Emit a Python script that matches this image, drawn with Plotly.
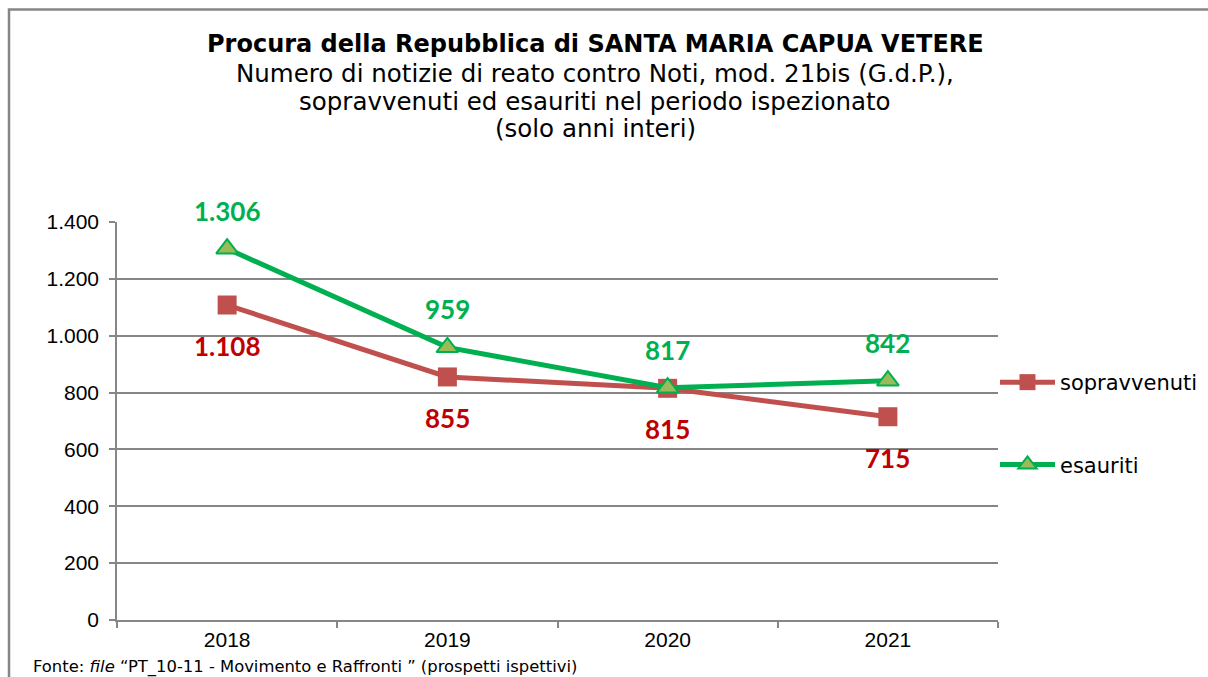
import plotly.graph_objects as go

years = ["2018", "2019", "2020", "2021"]
sopravvenuti = [1108, 855, 815, 715]
esauriti = [1306, 959, 817, 842]
y_ticks = [0, 200, 400, 600, 800, 1000, 1200, 1400]

title_lines = [
    ("<b>Procura della Repubblica di SANTA MARIA CAPUA VETERE</b>", 44),
    ("Numero di notizie di reato contro Noti, mod. 21bis (G.d.P.),", 73),
    ("sopravvenuti ed esauriti nel periodo ispezionato", 101),
    ("(solo anni interi)", 129),
]
footnote = "Fonte: <i>file</i> \u201cPT_10-11 - Movimento e Raffronti \u201d (prospetti ispettivi)"

# figure is a bit wider than the 1208px window so the legend never pushes the margin
W, H = 1224, 677
L, R, T, B = 117, 226, 222, 57
PW, PH = W - L - R, H - T - B

def px_x(p):
    return (p - L) / PW

def px_y(p):
    return (H - B - p) / PH

def fmt(v):
    return f"{v:,}".replace(",", ".")

fig = go.Figure()
fig.add_trace(go.Scatter(
    x=years, y=sopravvenuti, name="sopravvenuti", mode="lines+markers",
    line=dict(color="#C0504D", width=5),
    marker=dict(symbol="square", size=19, color="#C0504D"),
    legendgroup="a",
))
fig.add_trace(go.Scatter(
    x=years, y=esauriti, name="esauriti", mode="lines+markers",
    line=dict(color="#00B050", width=5),
    marker=dict(symbol="triangle-up", size=19, color="#9BBB59",
                line=dict(color="#00B050", width=2)),
    legendgroup="b",
))

annotations = []
for i, v in enumerate(esauriti):
    annotations.append(dict(x=i, y=v, xref="x", yref="y", text=f"<b>{fmt(v)}</b>",
                            showarrow=False, yshift=38, xanchor="center", yanchor="middle",
                            font=dict(family="Lato", size=26, color="#00B050")))
for i, v in enumerate(sopravvenuti):
    annotations.append(dict(x=i, y=v, xref="x", yref="y", text=f"<b>{fmt(v)}</b>",
                            showarrow=False, yshift=-41, xanchor="center", yanchor="middle",
                            font=dict(family="Lato", size=26, color="#C00000")))
for i, (txt, py) in enumerate(title_lines):
    annotations.append(dict(x=px_x(595), y=px_y(py), xref="paper", yref="paper", text=txt,
                            showarrow=False, xanchor="center", yanchor="middle",
                            font=dict(family="DejaVu Sans", size=24 if i == 0 else 24.5,
                                      color="black")))
annotations.append(dict(x=px_x(31), y=px_y(667), xref="paper", yref="paper", text=footnote,
                        showarrow=False, xanchor="left", yanchor="middle",
                        font=dict(family="DejaVu Sans", size=16.4, color="black")))

fig.update_layout(
    width=W, height=H, autosize=False,
    margin=dict(l=L, r=R, t=T, b=B),
    paper_bgcolor="white", plot_bgcolor="white",
    separators=",.",
    annotations=annotations,
    shapes=[dict(type="rect", xref="paper", yref="paper",
                 x0=px_x(9), x1=px_x(1218), y0=px_y(700), y1=px_y(9.5),
                 line=dict(color="#868686", width=2.5), layer="below")],
    legend=dict(x=px_x(995), y=px_y(362), xanchor="left", yanchor="top",
                font=dict(family="DejaVu Sans", size=21, color="black"),
                tracegroupgap=52, itemwidth=55, bgcolor="rgba(0,0,0,0)"),
    showlegend=True,
)
fig.update_xaxes(type="category", range=[-0.5, 3.5], tickson="boundaries",
                 ticks="outside", ticklen=6, tickcolor="#868686", tickwidth=1.5,
                 showline=True, linecolor="#868686", linewidth=1.5, showgrid=False,
                 tickfont=dict(family="Liberation Sans", size=21, color="black"))
fig.update_yaxes(range=[0, 1400], tickvals=y_ticks, tickformat=",d",
                 ticks="outside", ticklen=6, tickcolor="#868686", tickwidth=1.5,
                 ticklabelstandoff=6,
                 showline=True, linecolor="#868686", linewidth=1.5,
                 showgrid=True, gridcolor="#868686", gridwidth=1.5, zeroline=False,
                 tickfont=dict(family="Liberation Sans", size=21, color="black"))

fig.write_html(
    "out.html",
    config={"responsive": False, "displayModeBar": False},
    post_script="document.body.style.margin='0';document.body.style.overflow='hidden';",
)
